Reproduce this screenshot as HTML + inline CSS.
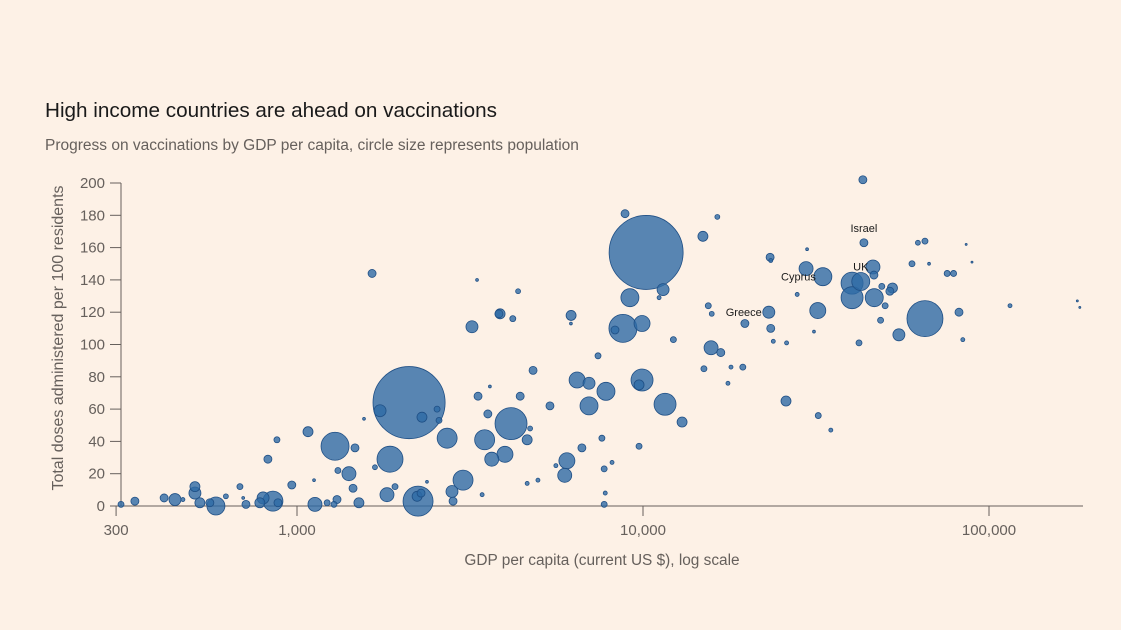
<!DOCTYPE html>
<html><head><meta charset="utf-8"><style>
html,body{margin:0;padding:0;background:#fdf1e6;}
svg{display:block;font-family:"Liberation Sans",sans-serif;}
</style></head><body>
<svg width="1121" height="630" viewBox="0 0 1121 630" id="chart">
<rect width="1121" height="630" fill="#fdf1e6"/>
<text x="45" y="117" font-size="20.7" fill="#1a1a1a">High income countries are ahead on vaccinations</text>
<text x="45" y="150" font-size="15.5" fill="#66605c">Progress on vaccinations by GDP per capita, circle size represents population</text>
<text transform="translate(63,338) rotate(-90)" text-anchor="middle" font-size="16" fill="#66605c">Total doses administered per 100 residents</text>
<text x="602" y="565" text-anchor="middle" font-size="15.4" fill="#66605c">GDP per capita (current US $), log scale</text>
<g id="axes"></g>
<g id="bubbles"></g>
<g id="labels"></g>
</svg>
<script>
const gdp=[310,340,413,444,468,507,507,524,560,583,623,684,699,712,781,798,852,881,824,875,966,1120,1076,1127,1222,1279,1305,1288,1471,1313,1413,1452,1510,1648,1738,1562,2108,2297,2540,2573,1857,1680,1820,1920,2238,2224,2283,2375,2716,2805,2825,3019,3204,3336,3561,3486,3655,4155,3314,3610,3428,3834,3991,4416,4626,4811,4718,4355,3863,4204,5384,6197,6450,6982,7816,6982,7413,6026,5940,6659,7607,7723,7778,7723,8138,5600,4970,4626,8873,10210,11430,9165,8750,9936,9936,9740,11580,12970,9740,12240,14900,16400,15440,15800,15730,16780,15000,17960,19430,17600,23300,23100,19700,23400,23800,26000,25900,32100,34900,29600,33100,32000,43200,43500,40200,42600,46200,40200,46600,49000,52600,50100,48600,42100,54900,65300,59900,65300,75700,79000,81900,84000,115000,6190,11130,8300,23400,29800,27900,31200,46500,51700,62300,183000,180000,89300,85900,67100];
const doses=[1,3,5,4,4,12,8,2,2,0,6,12,5,1,2,5,3,2,29,41,13,16,46,1,2,1,4,37,36,22,20,11,2,144,59,54,64,55,60,53,29,24,7,12,3,6,8,15,42,9,3,16,111,68,57,41,29,51,140,74,7,119,32,68,41,84,48,133,119,116,62,118,78,76,71,62,93,28,19,36,42,23,8,1,27,25,16,14,181,157,134,129,110,113,78,75,63,52,37,103,167,179,124,119,98,95,85,86,86,76,154,120,113,110,102,101,65,56,47,147,142,121,202,163,138,139,148,129,129,136,135,124,115,101,106,116,150,164,144,144,120,103,124,113,129,109,152,159,131,108,143,133,163,123,127,151,162,150];
const population=[9,16,16,36,4,25,36,25,16,81,6,9,2,16,25,36,100,16,16,9,16,2,25,49,9,9,16,196,16,9,49,16,25,16,36,2,1300,25,9,9,169,6,49,9,225,25,16,2,100,36,16,100,36,16,16,100,49,256,2,2,4,16,64,16,25,16,6,6,25,9,16,25,64,36,81,81,9,64,49,16,9,9,4,9,4,4,4,4,16,1369,36,81,196,64,121,25,121,25,9,9,25,6,9,6,49,16,9,4,9,4,16,36,16,16,4,4,25,9,4,49,81,64,16,16,121,81,49,121,81,9,25,9,9,9,36,324,9,9,9,9,16,4,4,2,4,16,4,2,4,2,16,16,6,1,1,1,1,2];
const labelNames=["Israel","UK","Cyprus","Greece"];
const labelGdp=[43500,42600,33100,23100];
const labelDoses=[163,139,142,120];
const labelMode=["above","above","left","left"];
const yTicks=[0,20,40,60,80,100,120,140,160,180,200];
const xTicks=[300,1000,10000,100000];
const xTickLabels=["300","1,000","10,000","100,000"];

const NS="http://www.w3.org/2000/svg";
const xs=v=>297+(Math.log10(v)-3)*346;
const ys=v=>506-v*1.615;
function mk(tag,attrs,parent,txt){const e=document.createElementNS(NS,tag);for(const k in attrs)e.setAttribute(k,attrs[k]);if(txt!==undefined)e.textContent=txt;parent.appendChild(e);return e;}
const axes=document.getElementById('axes');
let l=mk('line',{x1:121,y1:183,x2:121,y2:506,stroke:'#66605c','stroke-width':1},axes);


l=mk('line',{x1:110,y1:506,x2:1083,y2:506,stroke:'#66605c','stroke-width':1},axes);


yTicks.forEach(t=>{const y=ys(t);
 const tk=mk('line',{x1:110,y1:y,x2:121,y2:y,stroke:'#66605c'},axes);
 
 
 const tx=mk('text',{x:105,y:y+5,'text-anchor':'end','font-size':15,fill:'#66605c'},axes,String(t));
 
 
});
xTicks.forEach((t,i)=>{const x=xs(t);
 const tk=mk('line',{x1:x,y1:506,x2:x,y2:516,stroke:'#66605c'},axes);
 
 
 const tx=mk('text',{x:x,y:535,'text-anchor':'middle','font-size':15,fill:'#66605c'},axes,xTickLabels[i]);
 
 
});
const bg=document.getElementById('bubbles');
const idx=gdp.map((_,i)=>i).sort((a,b)=>population[b]-population[a]);
idx.forEach(i=>{
 const c=mk('circle',{cx:xs(gdp[i]),cy:ys(doses[i]),r:Math.sqrt(population[i]),fill:'#2e6aa5','fill-opacity':0.8,stroke:'#1f4f85','stroke-width':0.8},bg);
 
 
});
const lg=document.getElementById('labels');
labelNames.forEach((n,i)=>{
 const x=xs(labelGdp[i]),y=ys(labelDoses[i]);
 let t;
 if(labelMode[i]==='above') t=mk('text',{x:x,y:y-11,'text-anchor':'middle','font-size':11,fill:'#1a1a1a'},lg,n);
 else t=mk('text',{x:x-7,y:y+4,'text-anchor':'end','font-size':11,fill:'#1a1a1a'},lg,n);
 
 
});
</script>
</body></html>
